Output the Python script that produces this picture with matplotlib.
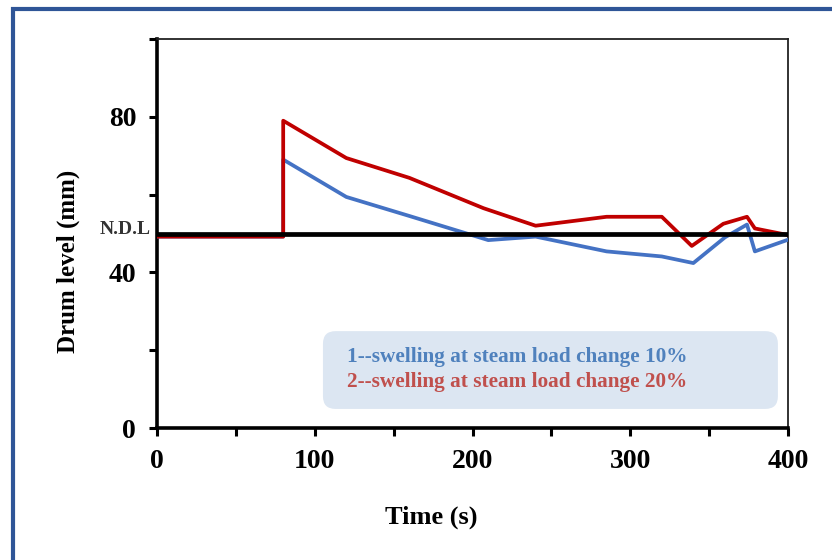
"""Drum level response to steam load steps (swelling), 10% vs 20%."""

import matplotlib
matplotlib.use("Agg")
import matplotlib.pyplot as plt
from matplotlib.patches import FancyBboxPatch, Rectangle

plt.rcParams["font.family"] = ["Liberation Serif", "DejaVu Serif"]
plt.rcParams["font.weight"] = "bold"
plt.rcParams["axes.labelweight"] = "bold"

# ── data ─────────────────────────────────────────────────────────────────
T_10 = [0, 80, 80, 120, 160, 210, 240, 285, 320, 340, 360, 374, 379, 400]
L_10 = [49.2, 49.2, 69.0, 59.4, 54.5, 48.3, 49.2, 45.4, 44.1, 42.4, 49.0, 52.3, 45.4, 48.4]

T_20 = [0, 80, 80, 120, 160, 207, 240, 285, 320, 339, 359, 374, 379, 400]
L_20 = [49.2, 49.2, 79.0, 69.4, 64.3, 56.5, 52.0, 54.3, 54.3, 46.8, 52.5, 54.3, 51.3, 49.6]

NDL = 50
X_TICKS = [0, 50, 100, 150, 200, 250, 300, 350, 400]
X_LABELS = ["0", "", "100", "", "200", "", "300", "", "400"]
Y_TICKS = [0, 20, 40, 60, 80, 100]
Y_LABELS = ["0", "", "40", "", "80", ""]
LABEL_10 = "1--swelling at steam load change 10%"
LABEL_20 = "2--swelling at steam load change 20%"

BLUE = "#4472C4"
RED = "#C00000"

fig = plt.figure(figsize=(8.32, 5.6), dpi=100)
ax = fig.add_axes([157 / 832, 1 - 428 / 560, 631 / 832, 389 / 560])

# outer blue frame (runs off the right/bottom edge)
fig.patches.append(Rectangle((12.5 / 832, -0.1), 1.2, 1 - 8.5 / 560 + 0.1,
                             transform=fig.transFigure, fill=False,
                             edgecolor="#2F5597", linewidth=3.0, zorder=0))

ax.plot(T_10, L_10, color=BLUE, linewidth=2.7, zorder=3)
ax.plot(T_20, L_20, color=RED, linewidth=2.7, zorder=4)
ax.axhline(NDL, color="black", linewidth=3.4, zorder=5)
ax.text(-0.01, NDL + 1.0, "N.D.L", transform=ax.get_yaxis_transform(),
        ha="right", va="center", fontsize=14, color="#333333")

ax.set_xlim(0, 400)
ax.set_ylim(0, 100)
ax.set_xticks(X_TICKS)
ax.set_xticklabels(X_LABELS)
ax.set_yticks(Y_TICKS)
ax.set_yticklabels(Y_LABELS)
ax.tick_params(direction="out", length=6, width=2.2, labelsize=20, pad=9)

for side in ("left", "bottom"):
    ax.spines[side].set_linewidth(2.6)
for side in ("top", "right"):
    ax.spines[side].set_linewidth(1.3)
    ax.spines[side].set_color("#222222")

ax.set_xlabel("Time (s)", fontsize=19)
ax.set_ylabel("Drum level (mm)", fontsize=18)
ax.xaxis.set_label_coords(0.434, -0.2)
ax.yaxis.set_label_coords(-0.122, 0.429)

# legend-like annotation box
box = FancyBboxPatch((0.263, 0.049), 0.721, 0.2,
                     boxstyle="round,pad=0,rounding_size=0.02",
                     mutation_aspect=631 / 389, transform=ax.transAxes,
                     facecolor="#DCE6F2", edgecolor="none", zorder=2)
ax.add_patch(box)
ax.text(0.301, 0.183, LABEL_10, transform=ax.transAxes, color="#4F81BD",
        fontsize=15.3, va="center", ha="left", zorder=6)
ax.text(0.301, 0.118, LABEL_20, transform=ax.transAxes, color="#C0504D",
        fontsize=15.3, va="center", ha="left", zorder=6)

fig.savefig("out.png", dpi=100)
